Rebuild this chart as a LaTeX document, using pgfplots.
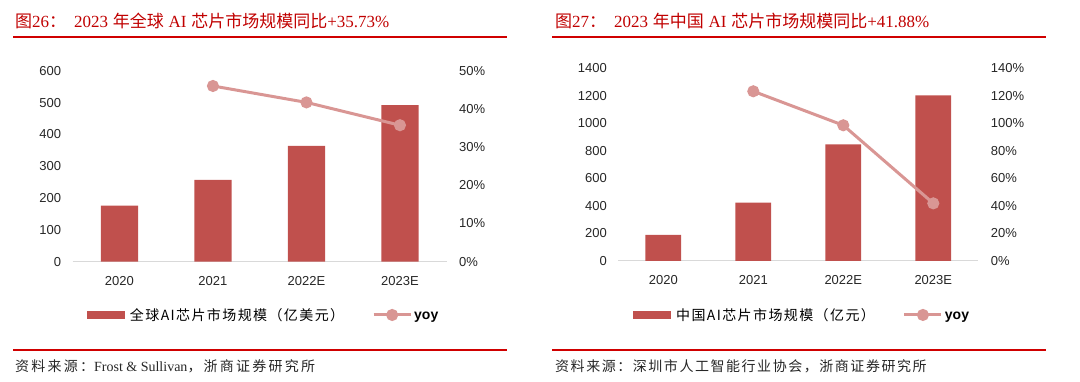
\documentclass[border=0pt]{standalone}
\usepackage{fontspec}
\usepackage{pgfplots}
\pgfplotsset{compat=1.18}
\setmainfont{Liberation Sans}
\newfontfamily\cjk{Noto Sans CJK SC}
\newfontfamily\cjkl{Noto Sans CJK SC}[LetterSpace=10]
\newfontfamily\cjks{Noto Sans CJK SC}[LetterSpace=16]
\newfontfamily\cjkr{Noto Sans CJK SC}[LetterSpace=11]
\newfontfamily\tms{Liberation Serif}
\definecolor{barred}{HTML}{C0504D}
\definecolor{yoypink}{HTML}{D99694}
\definecolor{titlered}{HTML}{C00000}
\definecolor{rulered}{HTML}{D00000}
\definecolor{tickgray}{HTML}{262626}

\pgfplotsset{
  base/.style={scale only axis, xmin=-0.5, xmax=3.5, ymin=0,
    xtick={0,1,2,3}, xticklabels={2020,2021,2022E,2023E},
    major tick length=0pt,
    tick label style={font=\fontsize{13}{14}\selectfont, text=tickgray},
    /pgf/number format/.cd, assume math mode=true, 1000 sep={}, /pgfplots/.cd,
    clip=false},
  prim/.style={base, axis x line*=bottom, axis y line*=left,
    x axis line style={-, draw=black!15, line width=1pt},
    y axis line style={draw=none},
    yticklabel style={xshift=-8pt}, xticklabel style={yshift=-11pt}},
  sec/.style={base, axis x line=none, axis y line*=right,
    y axis line style={draw=none},
    yticklabel={\pgfmathprintnumber{\tick}\%},
    yticklabel style={xshift=9pt},
    legend columns=2,
    legend style={draw=none, fill=none, anchor=center,
      font=\fontsize{14}{15}\selectfont,
      /tikz/every even column/.append style={column sep=26pt}}},
  barleg/.style={legend image code/.code={\fill[barred] (0pt,-3.5pt) rectangle (37pt,3.5pt);}},
  lineleg/.style={legend image code/.code={\draw[yoypink,line width=3pt] (0pt,0pt) -- (37pt,0pt); \fill[yoypink] (18.5pt,0pt) circle (4.5pt);}},
}

\begin{document}
\begin{tikzpicture}
\useasboundingbox (0,0) rectangle (1080pt,382pt);

% ---------- Left panel ----------
\node[anchor=west, text=titlered, font=\fontsize{17}{19}\selectfont, inner sep=0pt] at (15pt,361.5pt)
  {{\cjk 图}{\tms 26}{\cjk ：}\hspace{8pt}{\tms 2023} {\cjk 年全球} {\tms AI} {\cjk 芯片市场规模同比}{\tms +35.73\%}};
\draw[rulered, line width=1.8pt] (13.3pt,345.3pt) -- (507.3pt,345.3pt);

\begin{axis}[prim, at={(72.7pt,120.3pt)}, anchor=south west, width=374pt, height=191pt,
  ymax=600, ytick={0,100,...,600}]
\addplot[ybar, bar width=37.3pt, fill=barred, draw=none] coordinates {(0,176) (1,257) (2,364) (3,492)};
\end{axis}
\begin{axis}[sec, at={(72.7pt,120.3pt)}, anchor=south west, width=374pt, height=191pt,
  ymax=50, ytick={0,10,...,50}, legend style={at={(0.51,-0.279)}}]
\addlegendimage{barleg}
\addlegendentry{\hspace{4pt}\cjkl 全球AI芯片市场规模（亿美元）}
\addplot[color=yoypink, line width=3pt, mark=*, mark size=4.5pt, lineleg] coordinates {(1,46.0) (2,41.7) (3,35.73)};
\addlegendentry{\raisebox{-2.5pt}{\bfseries yoy}}
\end{axis}

\draw[rulered, line width=1.3pt] (13.3pt,32pt) -- (507.3pt,32pt);
\node[anchor=west, text=black!85, font=\fontsize{14}{15}\selectfont, inner sep=0pt] at (15pt,16pt)
  {{\cjks 资料来源：}{\tms Frost \& Sullivan}{\cjks ，浙商证券研究所}};

% ---------- Right panel ----------
\node[anchor=west, text=titlered, font=\fontsize{17}{19}\selectfont, inner sep=0pt] at (555pt,361.5pt)
  {{\cjk 图}{\tms 27}{\cjk ：}\hspace{8pt}{\tms 2023} {\cjk 年中国} {\tms AI} {\cjk 芯片市场规模同比}{\tms +41.88\%}};
\draw[rulered, line width=1.8pt] (552.3pt,345.3pt) -- (1046pt,345.3pt);

\begin{axis}[prim, at={(618.3pt,121pt)}, anchor=south west, width=360pt, height=192.7pt,
  ymax=1400, ytick={0,200,...,1400}]
\addplot[ybar, bar width=35.7pt, fill=barred, draw=none] coordinates {(0,189) (1,424) (2,848) (3,1204)};
\end{axis}
\begin{axis}[sec, at={(618.3pt,121pt)}, anchor=south west, width=360pt, height=192.7pt,
  ymax=140, ytick={0,20,...,140}, legend style={at={(0.51,-0.28)}}]
\addlegendimage{barleg}
\addlegendentry{\hspace{4pt}\cjkl 中国AI芯片市场规模（亿元）}
\addplot[color=yoypink, line width=3pt, mark=*, mark size=4.5pt, lineleg] coordinates {(1,123.3) (2,98.6) (3,41.88)};
\addlegendentry{\raisebox{-2.5pt}{\bfseries yoy}}
\end{axis}

\draw[rulered, line width=1.3pt] (552.3pt,32pt) -- (1046pt,32pt);
\node[anchor=west, text=black!85, font=\fontsize{14}{15}\selectfont, inner sep=0pt] at (555pt,16pt)
  {{\cjkr 资料来源：深圳市人工智能行业协会，浙商证券研究所}};
\end{tikzpicture}
\end{document}
